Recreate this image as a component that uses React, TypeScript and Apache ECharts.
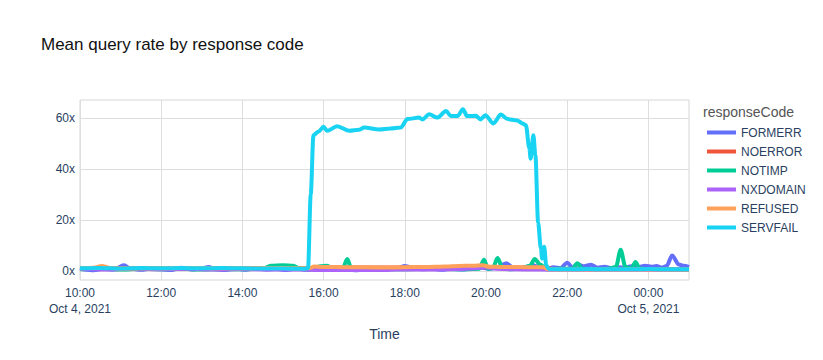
import React, { useEffect, useRef } from "react";
import * as echarts from "echarts";

// ---- Data ----
const seriesNames = ["FORMERR", "NOERROR", "NOTIMP", "NXDOMAIN", "REFUSED", "SERVFAIL"];
const seriesColors = ["#636efa", "#EF553B", "#00cc96", "#ab63fa", "#FFA15A", "#19d3f3"];

const xTickValues = [0, 2, 4, 6, 8, 10, 12, 14];
const xTickLabels = ["10:00\nOct 4, 2021", "12:00", "14:00", "16:00", "18:00", "20:00", "22:00", "00:00\nOct 5, 2021"];
const yTickValues = [0, 20, 40, 60];

const formerrTimes = ["10:00","10:10","10:20","10:35","10:50","11:05","11:15","11:30","11:45","12:00","12:15","12:30","12:45","13:00","13:10","13:20","13:35","13:50","14:05","14:20","14:35","14:50","15:05","15:20","15:35","15:50","16:05","16:20","16:35","16:50","17:05","17:20","17:35","17:50","18:00","18:10","18:25","18:40","18:55","19:10","19:25","19:40","19:55","20:05","20:15","20:30","20:40","20:50","21:00","21:10","21:20","21:30","21:40","21:50","22:00","22:08","22:15","22:25","22:35","22:45","22:55","23:05","23:15","23:25","23:35","23:45","23:55","00:05","00:12","00:20","00:27","00:35","00:45","00:52","01:00"];
const formerrValues = [1.0,0.4,0.2,0.8,0.5,2.2,0.8,0.4,0.9,0.6,0.3,1.2,0.5,0.9,1.5,0.6,0.3,0.9,0.4,1.1,0.5,0.8,0.3,0.9,0.4,0.8,0.3,0.9,0.5,0.2,0.8,0.3,0.7,1.0,1.9,1.4,0.6,0.9,0.4,0.8,0.5,0.9,1.2,0.8,1.2,3.0,1.2,0.9,1.6,2.2,1.2,0.8,1.4,1.0,3.2,1.2,2.6,1.8,2.4,1.2,1.6,1.0,1.4,1.2,1.8,1.5,2.0,1.6,1.9,1.3,1.9,6.0,2.5,2.0,1.5];

const noerrorTimes = ["10:00","11:00","12:00","13:00","14:00","15:00","15:40","15:50","17:00","18:00","19:00","20:00","21:00","21:30","21:40","23:00","00:00","01:00"];
const noerrorValues = [1.0,1.1,1.0,1.1,1.0,1.0,1.0,1.3,1.3,1.3,1.4,1.4,1.3,1.2,0.7,0.7,0.7,0.7];

const notimpTimes = ["10:00","10:30","11:00","11:30","12:00","12:30","13:00","13:30","14:00","14:30","14:42","15:00","15:15","15:25","15:40","15:55","16:05","16:15","16:28","16:35","16:41","17:00","17:30","18:00","18:30","19:00","19:30","19:50","19:57","20:03","20:10","20:17","20:24","20:35","20:50","21:05","21:12","21:20","21:30","21:50","22:08","22:15","22:22","22:40","23:00","23:12","23:19","23:26","23:35","23:41","23:47","00:00","00:30","01:00"];
const notimpValues = [0.6,0.9,0.5,0.8,0.6,0.8,0.5,0.7,0.6,0.8,2.0,2.2,2.0,0.8,0.6,1.8,2.0,0.8,0.9,4.6,0.8,0.6,0.7,0.6,0.8,0.7,0.6,0.8,4.3,0.8,1.0,5.0,1.5,0.6,0.8,2.0,4.6,2.5,0.6,0.8,0.9,3.0,0.9,0.6,0.8,1.5,8.3,1.5,1.0,3.5,0.9,0.6,0.5,0.4];

const nxdomainTimes = ["10:00","10:40","11:20","12:00","12:40","13:20","14:00","14:40","15:20","16:00","16:40","17:20","18:00","18:40","19:20","19:40","20:00","20:15","20:40","21:20","22:00","23:00","00:00","01:00"];
const nxdomainValues = [0.8,0.5,0.9,0.6,0.8,0.5,0.7,0.5,0.6,0.3,0.4,0.3,0.6,0.5,0.7,0.9,1.4,0.8,0.6,0.5,0.4,0.5,0.4,0.5];

const refusedTimes = ["10:00","10:20","10:32","10:45","11:00","11:30","12:00","12:30","13:00","13:30","14:00","14:30","15:00","15:30","15:40","15:46","16:00","16:30","17:00","17:30","18:00","18:30","19:00","19:20","19:40","19:55","20:05","20:20","20:40","21:00","21:25","21:32","22:00","23:00","00:00","01:00"];
const refusedValues = [1.0,1.2,1.9,1.1,0.9,1.0,1.0,1.1,1.1,1.0,1.0,1.1,1.1,1.0,1.1,1.7,1.5,1.4,1.4,1.3,1.4,1.5,1.7,1.9,2.0,2.2,1.6,1.5,1.5,1.4,1.4,0.6,0.5,0.5,0.5,0.5];

const servfailTimes = ["10:00","10:30","11:00","11:30","12:00","12:30","13:00","13:30","14:00","14:30","15:00","15:30","15:37","15:41","15:45","15:52","16:00","16:05","16:20","16:38","16:52","17:00","17:22","17:39","17:54","18:04","18:21","18:26","18:36","18:48","19:01","19:08","19:18","19:26","19:32","19:45","19:52","19:59","20:11","20:22","20:32","20:46","20:54","20:59","21:04","21:06","21:10","21:13","21:17","21:21","21:23","21:26","21:29","21:33","22:00","22:30","23:00","23:30","00:00","00:30","01:00"];
const servfailValues = [1.0,1.1,0.9,1.1,1.0,1.1,1.0,1.1,1.0,0.9,0.9,0.8,1.0,30,53.2,54.5,56.5,54.9,56.7,54.9,55.3,56.2,55.4,55.8,56.2,59.5,60.1,59.4,61.4,60.1,62.7,60.7,60.7,63.4,60.7,60.8,59.4,61.0,57.8,61.3,59.5,59.0,57.8,57.1,48,44,53.2,45.4,19,8.9,4.8,9.4,2.2,0.7,0.6,0.7,0.6,0.6,0.7,0.6,0.6];

const seriesTimes = [formerrTimes, noerrorTimes, notimpTimes, nxdomainTimes, refusedTimes, servfailTimes];
const seriesValues = [formerrValues, noerrorValues, notimpValues, nxdomainValues, refusedValues, servfailValues];

// hours since Oct 4 10:00
function toOffset(t: string): number {
  const [h, m] = t.split(":").map(Number);
  const hh = h < 10 ? h + 24 : h;
  return hh - 10 + m / 60;
}

const FONT = '"Liberation Sans", Arial, Helvetica, sans-serif';
const TEXT = "#2a3f5f";

export default function App() {
  const ref = useRef<HTMLDivElement>(null);
  useEffect(() => {
    if (!ref.current) return;
    const chart = echarts.init(ref.current, undefined, { renderer: "svg" });
    const series = seriesNames.map((name, i) => {
      const ts = seriesTimes[i];
      const vs = seriesValues[i];
      const n = Math.min(ts.length, vs.length);
      const data: number[][] = [];
      for (let k = 0; k < n; k++) data.push([toOffset(ts[k]), vs[k]]);
      return {
        name,
        type: "line",
        data,
        showSymbol: false,
        symbol: "none",
        smooth: 0.3,
        smoothMonotone: "x",
        lineStyle: { width: 4, color: seriesColors[i] },
        itemStyle: { color: seriesColors[i] },
        emphasis: { disabled: true },
        z: 2 + i,
      };
    });
    chart.setOption({
      animation: false,
      textStyle: { fontFamily: FONT },
      title: {
        text: "Mean query rate by response code",
        left: 41,
        top: 36,
        padding: 0,
        textStyle: { fontFamily: FONT, fontSize: 17, fontWeight: "normal", color: "#111" },
      },
      grid: {
        left: 80,
        right: 134,
        top: 100,
        bottom: 80,
        show: true,
        borderColor: "#d6d6d6",
        borderWidth: 1,
        backgroundColor: "#fff",
        containLabel: false,
      },
      legend: {
        orient: "vertical",
        left: 707,
        top: 123,
        padding: 0,
        itemGap: 0,
        itemWidth: 29,
        itemHeight: 4,
        icon: "rect",
        data: seriesNames,
        selectedMode: false,
        textStyle: { fontFamily: FONT, fontSize: 12, color: TEXT, lineHeight: 19, height: 19 },
      },
      graphic: [
        {
          type: "text",
          left: 703,
          top: 105,
          style: { text: "responseCode", fontFamily: FONT, fontSize: 14, fill: "#555" },
        },
      ],
      xAxis: {
        type: "value",
        min: 0,
        max: 15,
        name: "Time",
        nameLocation: "middle",
        nameGap: 47,
        nameTextStyle: { fontFamily: FONT, fontSize: 14, color: TEXT },
        axisLine: { show: false },
        axisTick: { show: false, customValues: xTickValues },
        splitLine: { show: true, lineStyle: { color: "#dedede", width: 1 } },
        axisLabel: {
          customValues: xTickValues,
          fontFamily: FONT,
          fontSize: 12,
          color: TEXT,
          lineHeight: 16,
          margin: 5,
          formatter: (v: number) => {
            const idx = xTickValues.indexOf(Math.round(v));
            return idx >= 0 && Math.abs(v - Math.round(v)) < 1e-6 ? xTickLabels[idx] : "";
          },
        },
      },
      yAxis: {
        type: "value",
        min: -3.6,
        max: 67,
        axisLine: { show: false },
        axisTick: { show: false, customValues: yTickValues },
        splitLine: { show: true, lineStyle: { color: "#dedede", width: 1 } },
        axisLabel: {
          customValues: yTickValues,
          fontFamily: FONT,
          fontSize: 12,
          color: TEXT,
          margin: 5,
          formatter: (v: number) => (Math.abs(v % 20) < 1e-6 ? `${Math.round(v)}x` : ""),
        },
      },
      series,
    });
    return () => chart.dispose();
  }, []);
  return (
    <div
      ref={ref}
      style={{ position: "fixed", left: 0, top: 0, width: 823, height: 360, background: "#fff" }}
    />
  );
}
